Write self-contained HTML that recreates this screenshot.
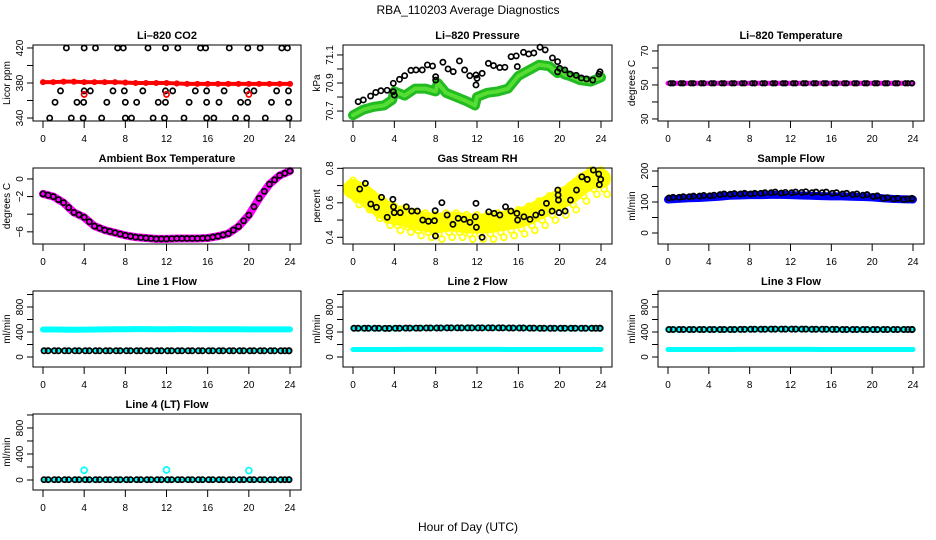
<!DOCTYPE html>
<html><head><meta charset="utf-8"><style>
html,body{margin:0;padding:0;background:#fff;}
svg{display:block;font-family:"Liberation Sans",sans-serif;}
</style></head><body>
<svg id="chart" width="936" height="540" viewBox="0 0 936 540">
<text x="468" y="14" text-anchor="middle" font-size="12">RBA_110203  Average Diagnostics</text>
<text x="468" y="531" text-anchor="middle" font-size="12">Hour of Day (UTC)</text>
</svg>
<script>
// ---- data ----
const hours = [0,1,2,3,4,5,6,7,8,9,10,11,12,13,14,15,16,17,18,19,20,21,22,23,24];
const xTicks = [0,4,8,12,16,20,24];
// CO2
const co2Red = [381,381,381.5,381.5,381,381,381,381,380.5,380,380,380,380,379.5,379,379,379,379,379,379,379,379,379,379,379];
const co2BlackT = [2.27,4.0,5.1,7.25,7.8,10.2,11.9,13.1,15.3,15.8,18.1,19.9,21.1,23.2,23.75,
 1.7,4.0,4.6,6.8,7.9,9.7,11.9,12.6,14.8,15.9,17.6,19.8,20.5,22.7,23.85,
 1.17,3.3,3.95,6.2,8.0,9.1,11.2,11.9,14.2,15.9,17.1,19.2,19.9,22.2,23.85,
 0.65,2.75,3.9,5.7,8.0,8.6,10.7,11.8,13.7,15.9,16.6,18.7,19.8,21.6,23.9];
const co2BlackV = [420,420,420,420,420,420,420,420,420,420,420,420,420,420,420,
 371,371,371,371,371,371,371,371,371,371,371,371,371,371,371,
 358,358,358,358,358,358,358,358,358,358,358,358,358,358,358,
 340,340,340,340,340,340,340,340,340,340,340,340,340,340,340];
const co2RedT = [4,12,20];
const co2RedV = [367,367,367];
// Pressure
const presGreenT = [0,1,2,3,3.8,4,5,6,7,8,8.2,9,10,11,11.8,12,13,14,15,16,17,18,19,19.8,20,20.5,21,22,23,24];
const presGreenV = [70.67,70.71,70.73,70.74,70.78,70.84,70.81,70.86,70.86,70.84,70.9,70.83,70.8,70.77,70.74,70.8,70.83,70.84,70.86,70.95,70.99,71.03,71.02,70.97,70.99,70.96,70.95,70.92,70.91,70.94];
const presBlackT = [0.5,1,1.7,2.2,2.7,3.3,3.9,3.9,4.0,4.5,5.0,5.6,6.1,6.7,7.2,7.7,8,8,8.7,9.2,9.7,10.3,10.8,11.3,11.9,11.9,12,12.5,13.1,13.6,14.2,14.7,15.3,15.8,15.9,16.5,17,17.5,18.1,18.6,19.3,19.8,19.8,20,20.5,21,21.6,22.1,22.6,23.2,23.8,23.9];
const presBlackV = [70.767,70.779,70.807,70.833,70.845,70.848,70.898,70.838,70.814,70.926,70.952,70.99,70.993,70.993,71.029,71.021,70.945,70.921,71.048,71.0,70.981,71.057,70.993,70.952,70.957,70.886,70.933,70.969,71.04,71.024,71.01,71.012,71.088,71.093,71.017,71.119,71.107,71.114,71.155,71.136,71.079,71.052,70.98,71.005,70.993,70.964,70.955,70.936,70.929,70.921,70.964,70.98];
// Li-820 temperature
const ltMag = [51,51,51,51,51,51,51,51,51,51,51,51,51,51,51,51,51,51,51,51,51,51,51,51,51];
const ltBlack = [51,51,51,51,51,51,51,51,51,51,51,51,51,51,51,51,51,51,51,51,51,51,51,51,51];
// Ambient
const ambV = [-1.7,-2.0,-2.7,-3.8,-4.35,-5.35,-5.8,-6.1,-6.4,-6.6,-6.7,-6.8,-6.8,-6.75,-6.75,-6.75,-6.7,-6.5,-6.2,-5.4,-4.1,-2.2,-0.6,0.4,0.9];
// RH
const rhYellow = [0.68,0.65,0.6,0.56,0.53,0.52,0.5,0.49,0.48,0.49,0.49,0.48,0.48,0.48,0.49,0.5,0.51,0.53,0.56,0.59,0.62,0.65,0.7,0.74,0.74];
const rhBlackT = [0.65,1.2,1.72,2.27,2.76,3.31,3.86,3.92,3.99,4.57,5.16,5.68,6.23,6.75,7.3,7.88,7.95,7.98,8.6,9.11,9.67,10.18,10.74,11.32,11.84,11.9,11.94,12.49,13.14,13.66,14.21,14.76,15.28,15.86,15.93,16.54,17.13,17.68,18.26,18.72,19.27,19.82,19.85,19.88,19.94,20.53,21.05,21.63,22.15,22.67,23.26,23.78,23.84,23.97];
const rhBlackV = [0.68,0.713,0.593,0.574,0.632,0.516,0.62,0.577,0.543,0.543,0.577,0.552,0.552,0.5,0.493,0.496,0.554,0.408,0.601,0.529,0.475,0.51,0.504,0.487,0.519,0.597,0.458,0.4,0.548,0.539,0.529,0.577,0.552,0.539,0.5,0.519,0.504,0.529,0.543,0.597,0.552,0.674,0.645,0.616,0.543,0.552,0.616,0.674,0.751,0.736,0.79,0.767,0.705,0.736];
// Sample flow
const sfBlue = [108,110,112,113,115,117,120,121,122,122,123,123,122,121,120,119,118,118,117,116,115,112,110,109,108];
const sfBlack = [115,117,119,121,122,126,127,128,128,130,132,131,132,133,132,132,130,128,126,124,120,114,112,110,112];
// Line flows
const l1Upper = [440,440,438,436,438,440,442,444,444,446,446,444,444,446,446,444,444,444,444,444,442,442,442,442,442];
const l1Lower = [110,110,110,110,110,110,110,110,110,110,110,110,110,110,110,110,110,110,110,110,110,110,110,110,110];
const l1Black = [100,100,100,100,100,100,100,100,100,100,100,100,100,100,100,100,100,100,100,100,100,100,100,100,100];
const l2Upper = [460,460,460,458,460,462,462,464,464,466,466,466,466,466,466,464,464,462,460,460,460,460,460,460,460];
const l2Lower = [120,120,120,120,120,122,122,122,122,122,122,122,122,122,122,120,120,120,120,120,120,120,120,120,120];
const l2Black = [460,460,460,458,460,462,462,464,464,466,466,466,466,466,466,464,464,462,460,460,460,460,460,460,460];
const l3Upper = [440,440,440,440,440,440,440,442,444,444,446,446,446,446,444,444,442,440,440,440,440,440,440,440,440];
const l3Lower = [120,120,120,120,120,120,120,122,122,122,122,122,122,122,122,120,120,120,120,120,120,120,120,120,120];
const l3Black = [440,440,440,440,440,440,440,442,444,444,446,446,446,446,444,444,442,440,440,440,440,440,440,440,440];
const l4Cyan = [0,0,0,0,0,0,0,0,0,0,0,0,0,0,0,0,0,0,0,0,0,0,0,0,0];
const l4Black = [5,5,5,5,5,5,5,5,5,5,5,5,5,5,5,5,5,5,5,5,5,5,5,5,5];
const l4SpikeT = [4,12,20];
const l4SpikeV = [150,155,145];

// ---- layout ----
const NS = "http://www.w3.org/2000/svg";
const svg = document.getElementById('chart');
const cols = [[33,301],[343,612],[658,924]];
const rowTops = [45,168,291,414];
const H = 76;
function el(tag, attrs, parent){ const e=document.createElementNS(NS,tag); for(const k in attrs) e.setAttribute(k,attrs[k]); (parent||svg).appendChild(e); return e; }

function makePanel(name, title, col, row, lo, hi, ticks, labels, ylab){
  const L=cols[col][0], R=cols[col][1], T=rowTops[row], B=T+H;
  const g = el('g',{});
  
  
  const p = {g, L, R, T, B,
    x: t => L+10 + t/24*(R-L-21),
    y: v => B - (v-lo)/(hi-lo)*H};
  const tt = el('text',{x:(L+R)/2,y:T-6,'text-anchor':'middle','font-size':11,'font-weight':'bold'},g);
  tt.textContent = title;
  
  
  el('line',{x1:p.x(0),x2:p.x(24),y1:B,y2:B,stroke:'#000'},g);
  xTicks.forEach(t=>{
    el('line',{x1:p.x(t),x2:p.x(t),y1:B,y2:B+7,stroke:'#000'},g);
    const lb = el('text',{x:p.x(t),y:B+21,'text-anchor':'middle','font-size':10},g);
    lb.textContent = t;
    
    
  });
  const y0=p.y(ticks[0]), y1=p.y(ticks[ticks.length-1]);
  el('line',{x1:L,x2:L,y1:y0,y2:y1,stroke:'#000'},g);
  ticks.forEach((v,i)=>{
    el('line',{x1:L-6,x2:L,y1:p.y(v),y2:p.y(v),stroke:'#000'},g);
    if(labels[i]!==''){
      const lb = el('text',{x:0,y:0,'text-anchor':'middle','font-size':10,transform:`translate(${L-10},${p.y(v)}) rotate(-90)`},g);
      lb.textContent = labels[i];
      
      
    }
  });
  const yl = el('text',{x:0,y:0,'text-anchor':'middle','font-size':10,transform:`translate(${L-23},${(T+B)/2}) rotate(-90)`},g);
  yl.textContent = ylab;
  
  
  p.box = () => {
    const bx = el('rect',{x:L,y:T,width:R-L,height:H,fill:'none',stroke:'#000'},g);
    
    
  };
  return p;
}
function band(p, ts, vs, color, w, name){
  const pts = ts.map((t,i)=>p.x(t)+','+p.y(vs[i])).join(' ');
  const pl = el('polyline',{points:pts,fill:'none',stroke:color,'stroke-width':w,'stroke-linejoin':'round','stroke-linecap':'round'},p.g);
  
  
}
function circles(p, ts, vs, color, name, r){
  ts.forEach((t,i)=>{
    const c = el('circle',{cx:p.x(t),cy:p.y(vs[i]),r:r||2.6,fill:'none',stroke:color,'stroke-width':1.7},p.g);
    
    
  });
}
const blackHours = hours.map(h=>Math.min(h+0.5,23.9));

let p = makePanel('panel-co2','Li\u2013820 CO2',0,0,336.6,423.4,[340,360,380,400,420],['340','','380','','420'],'Licor ppm');
band(p,hours,co2Red,'#ff0000',4,'co2-red-series');
circles(p,hours,co2Red,'#ff0000','co2-red-point',2.2);
circles(p,co2BlackT,co2BlackV,'#000','co2-black-point');
circles(p,co2RedT,co2RedV,'#ff0000','co2-red-outlier');
p.box();

p = makePanel('panel-pressure','Li\u2013820 Pressure',1,0,70.629,71.171,[70.7,70.8,70.9,71.0,71.1],['70.7','','70.9','','71.1'],'kPa');
band(p,presGreenT,presGreenV,'#22bb22',10,'pressure-green-series');
band(p,presGreenT,presGreenV,'#55dd33',4,'pressure-green-core');
circles(p,presBlackT,presBlackV,'#000','pressure-black-point');
p.box();

p = makePanel('panel-li820-temp','Li\u2013820 Temperature',2,0,28.8,73.5,[30,40,50,60,70],['30','','50','','70'],'degrees C');
band(p,hours,ltMag,'#ff00ff',5,'li820-temp-magenta-series');
circles(p,blackHours,ltBlack,'#000','li820-temp-black-point',2.3);
circles(p,hours.map(h=>Math.min(h+0.25,23.9)),ltBlack,'#000','li820-temp-black-point',2.3);
p.box();

p = makePanel('panel-ambient-temp','Ambient Box Temperature',0,1,-7.38,1.24,[-6,-4,-2,0],['\u22126','','\u22122','0'],'degrees C');
band(p,hours,ambV,'#ff00ff',8,'ambient-magenta-series');
circles(p,hours,ambV,'#000','ambient-black-point',2.6);
circles(p,hours.slice(0,24).map(h=>h+0.5),ambV.slice(0,24).map((v,i)=>(v+ambV[i+1])/2),'#000','ambient-black-point',2.6);
p.box();

p = makePanel('panel-gas-rh','Gas Stream RH',1,1,0.361,0.802,[0.4,0.5,0.6,0.7,0.8],['0.4','','0.6','','0.8'],'percent');
band(p,hours,rhYellow,'#ffff00',20,'rh-yellow-series');
circles(p,hours,rhYellow.map(v=>v+0.05),'#ffff00','rh-yellow-point',3);
circles(p,hours.map(h=>h+0.3),rhYellow.map(v=>v-0.06),'#ffff00','rh-yellow-point',3);
circles(p,hours.map(h=>h+0.6),rhYellow.map(v=>v-0.09),'#ffff00','rh-yellow-point',3);
circles(p,rhBlackT,rhBlackV,'#000','rh-black-point');
p.box();

p = makePanel('panel-sample-flow','Sample Flow',2,1,-35.5,209.7,[0,50,100,150,200],['0','','100','','200'],'ml/min');
band(p,hours,sfBlue,'#0000ff',8,'sample-flow-blue-series');
circles(p,blackHours,sfBlack,'#000','sample-flow-black-point');
circles(p,hours.map(h=>Math.min(h+0.1,23.9)),sfBlack.map(v=>v-2),'#000','sample-flow-black-point');
p.box();

const flowTicks=[0,200,400,600,800,1000], flowLabels=['0','','400','','800',''];
p = makePanel('panel-line1-flow','Line 1 Flow',0,2,-160,1056,flowTicks,flowLabels,'ml/min');
band(p,hours,l1Upper,'#00ffff',6,'line1-cyan-upper');
band(p,hours,l1Lower,'#00ffff',4,'line1-cyan-lower');
circles(p,blackHours,l1Black,'#000','line1-black-point');
circles(p,hours.map(h=>Math.min(h+0.1,23.9)),l1Black,'#000','line1-black-point');
p.box();
p = makePanel('panel-line2-flow','Line 2 Flow',1,2,-160,1056,flowTicks,flowLabels,'ml/min');
band(p,hours,l2Upper,'#00ffff',6,'line2-cyan-upper');
band(p,hours,l2Lower,'#00ffff',5,'line2-cyan-lower');
circles(p,blackHours,l2Black,'#000','line2-black-point');
circles(p,hours.map(h=>Math.min(h+0.1,23.9)),l2Black,'#000','line2-black-point');
p.box();
p = makePanel('panel-line3-flow','Line 3 Flow',2,2,-160,1056,flowTicks,flowLabels,'ml/min');
band(p,hours,l3Upper,'#00ffff',6,'line3-cyan-upper');
band(p,hours,l3Lower,'#00ffff',5,'line3-cyan-lower');
circles(p,blackHours,l3Black,'#000','line3-black-point');
circles(p,hours.map(h=>Math.min(h+0.1,23.9)),l3Black,'#000','line3-black-point');
p.box();
p = makePanel('panel-line4-flow','Line 4 (LT) Flow',0,3,-154,1015,flowTicks,flowLabels,'ml/min');
band(p,hours,l4Cyan,'#00ffff',5,'line4-cyan-series');
circles(p,blackHours,l4Black,'#000','line4-black-point');
circles(p,hours.map(h=>Math.min(h+0.1,23.9)),l4Black,'#000','line4-black-point');
circles(p,l4SpikeT,l4SpikeV,'#00ffff','line4-cyan-spike',3);
p.box();
</script>
</body></html>
